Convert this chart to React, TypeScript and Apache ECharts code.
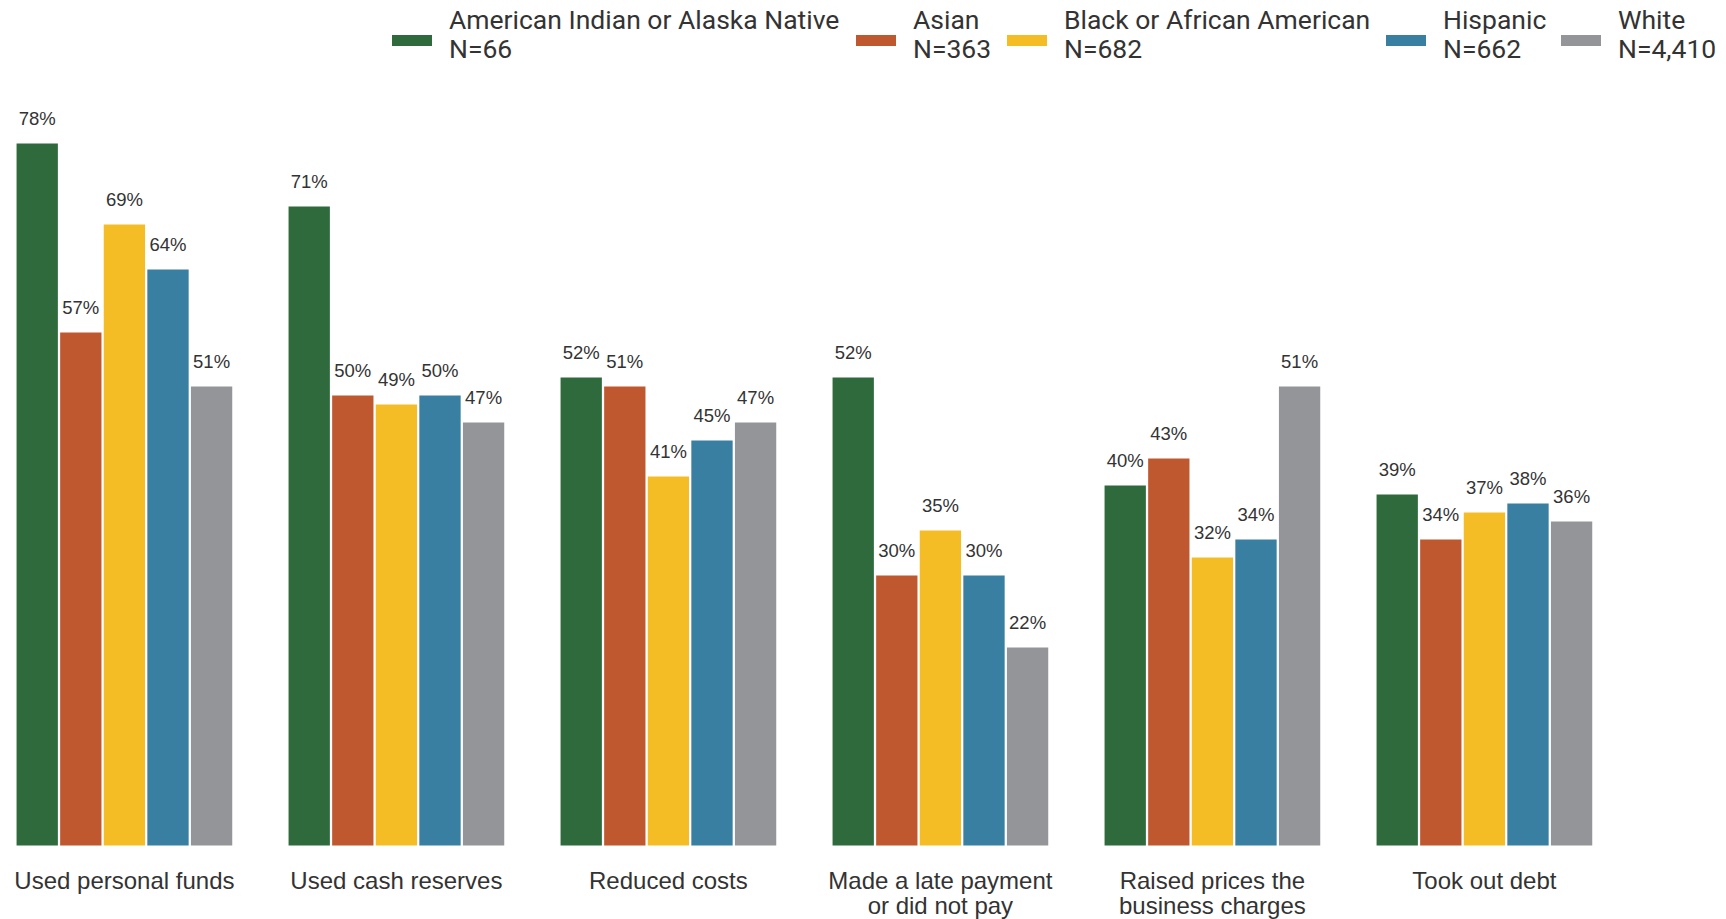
import React, { useEffect, useRef } from "react";
import * as echarts from "echarts";

const categories = [
  "Used personal funds",
  "Used cash reserves",
  "Reduced costs",
  "Made a late payment\nor did not pay",
  "Raised prices the\nbusiness charges",
  "Took out debt",
];

const seriesNames = [
  "American Indian or Alaska Native",
  "Asian",
  "Black or African American",
  "Hispanic",
  "White",
];
const seriesN = ["N=66", "N=363", "N=682", "N=662", "N=4,410"];
const colors = ["#2F6A3D", "#C0582F", "#F5BD25", "#387FA2", "#949599"];

const aian = [78, 71, 52, 52, 40, 39];
const asian = [57, 50, 51, 30, 43, 34];
const black = [69, 49, 41, 35, 32, 37];
const hispanic = [64, 50, 45, 30, 34, 38];
const white = [51, 47, 47, 22, 51, 36];
const values = [aian, asian, black, hispanic, white];

const SHIFT = 12;
const legendLefts = [392, 856, 1007, 1386, 1561];

export default function App() {
  const ref = useRef<HTMLDivElement>(null);
  useEffect(() => {
    if (!ref.current) return;
    const chart = echarts.init(ref.current, undefined, { renderer: "svg" });
    const option: any = {
      animation: false,
      backgroundColor: "#ffffff",
      legend: seriesNames.map((name, i) => ({
        data: [name],
        left: legendLefts[i] + SHIFT,
        top: 5.4,
        padding: 0,
        itemWidth: 40,
        itemHeight: 11,
        icon: "rect",
        selectedMode: false,
        formatter: (n: string) => `{t|${n}}\n{t|${seriesN[i]}}\n{s| }`,
        textStyle: {
          fontFamily: "Roboto",
          fontSize: 26.5,
          lineHeight: 28.6,
          color: "#333333",
          padding: [0, 0, 0, 12],
          rich: {
            t: {
              fontFamily: "Roboto",
              fontSize: 26.5,
              lineHeight: 28.6,
              color: "#333333",
            },
            s: { fontSize: 2, lineHeight: 13 },
          },
        },
      })),
      grid: {
        left: 0.4,
        width: 1632,
        top: 125.5,
        bottom: 73.5,
        containLabel: false,
      },
      xAxis: {
        type: "category",
        data: categories,
        axisLine: { show: false },
        axisTick: { show: false },
        axisLabel: {
          margin: 22,
          fontFamily: "Liberation Sans",
          fontSize: 24,
          lineHeight: 25,
          color: "#333333",
          interval: 0,
        },
      },
      yAxis: {
        type: "value",
        min: 0,
        max: 80,
        show: false,
        splitLine: { show: false },
      },
      series: seriesNames.map((name, i) => ({
        name,
        type: "bar",
        data: values[i],
        barCategoryGap: "20.7%",
        barGap: "5.5%",
        itemStyle: { color: colors[i] },
        label: {
          show: true,
          position: "top",
          distance: 16,
          formatter: "{c}%",
          fontFamily: "Liberation Sans",
          fontSize: 18.5,
          lineHeight: 18,
          color: "#333333",
        },
      })),
    };
    chart.setOption(option);
    return () => chart.dispose();
  }, []);
  return (
    <div
      ref={ref}
      style={{
        position: "fixed",
        left: -SHIFT,
        top: 0,
        width: 1726 + SHIFT,
        height: 919,
      }}
    />
  );
}
